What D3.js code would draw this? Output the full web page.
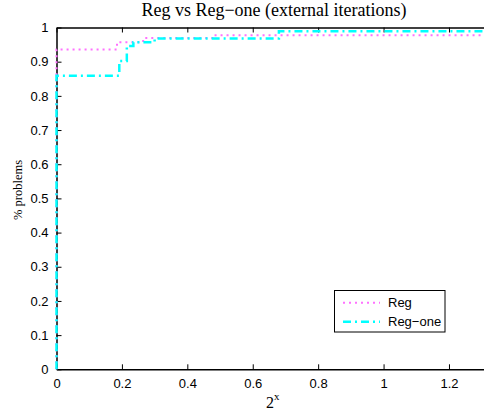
<!DOCTYPE html>
<html lang="en">
<head>
<meta charset="UTF-8">
<title>Reg vs Reg-one</title>
<script src="https://d3js.org/d3.v7.min.js"></script>
<style>
  body { margin: 0; background: #fff; }
  svg { display: block; }
  .tick text { font-family: "Liberation Sans", Arial, sans-serif; font-size: 13px; fill: #000; }
  .serif { font-family: "Liberation Serif", "Times New Roman", serif; fill: #000; }
</style>
</head>
<body>
<div id="chart"></div>
<script>
// step curves: x where each level starts, and the level (fraction of problems)
const regX      = [0, 0,     0.185, 0.265, 0.48,  1.33];
const regY      = [0, 0.936, 0.957, 0.969, 0.977, 0.977];
const regOneX   = [0, 0,     0.192, 0.215, 0.235, 0.30,  0.68,  1.33];
const regOneY   = [0, 0.859, 0.902, 0.946, 0.957, 0.968, 0.989, 0.989];

const xTicks = [0, 0.2, 0.4, 0.6, 0.8, 1, 1.2];
const yTicks = [0, 0.1, 0.2, 0.3, 0.4, 0.5, 0.6, 0.7, 0.8, 0.9, 1];
const seriesNames = ["Reg", "Reg\u2212one"];

const width = 484, height = 410;
const plotLeft = 56.5, plotRight = 491.5, plotTop = 27.5, plotBottom = 369.3;

const x = d3.scaleLinear().domain([0, 1.33]).range([plotLeft, plotRight]);
const y = d3.scaleLinear().domain([0, 1]).range([plotBottom, plotTop]);

const svg = d3.select("#chart").append("svg")
    .attr("width", width)
    .attr("height", height);

// axes, ticks pointing inward like matlab
const xAxis = d3.axisBottom(x).tickValues(xTicks).tickSizeInner(-5).tickSizeOuter(0).tickPadding(9)
    .tickFormat(d3.format("~g"));
const gx = svg.append("g").attr("transform", `translate(0,${plotBottom})`).call(xAxis);

const xTop = d3.axisTop(x).tickValues(xTicks).tickSizeInner(-5).tickSizeOuter(0).tickFormat("");
const gxt = svg.append("g").attr("transform", `translate(0,${plotTop})`).call(xTop);

const yAxis = d3.axisLeft(y).tickValues(yTicks).tickSizeInner(-5).tickSizeOuter(0).tickPadding(9)
    .tickFormat(d3.format("~g"));
const gy = svg.append("g").attr("transform", `translate(${plotLeft},0)`).call(yAxis);

[gx, gxt, gy].forEach(g => {
    g.select(".domain").attr("stroke", "#000").attr("stroke-width", 1.5);
    g.selectAll(".tick line").attr("stroke", "#000").attr("stroke-width", 1);
});
gx.selectAll(".tick text").attr("dy", "0.71em");
gy.selectAll(".tick text").attr("dx", "1px");

// data lines (drawn over the axes)
const line = d3.line()
    .x(d => x(d[0]))
    .y(d => y(d[1]))
    .curve(d3.curveStepAfter);

const series = [
    { name: seriesNames[0], pts: d3.zip(regX, regY), color: "#ff70ff", dash: "2,4", w: 2 },
    { name: seriesNames[1], pts: d3.zip(regOneX, regOneY), color: "#00ffff", dash: "8,4,2,4", w: 2.5 }
];

series.forEach(s => {
    svg.append("path")
        .attr("d", line(s.pts))
        .attr("fill", "none")
        .attr("stroke", s.color)
        .attr("stroke-width", s.w)
        .attr("stroke-dasharray", s.dash);
});

// title and labels
svg.append("text").attr("class", "serif")
    .attr("x", 274).attr("y", 16)
    .attr("text-anchor", "middle")
    .attr("font-size", 18)
    .text("Reg vs Reg\u2212one (external iterations)");

svg.append("text").attr("class", "serif")
    .attr("transform", "translate(22,190) rotate(-90)")
    .attr("text-anchor", "middle")
    .attr("font-size", 12.5)
    .text("% problems");

const xl = svg.append("text").attr("class", "serif")
    .attr("x", 266).attr("y", 408)
    .attr("font-size", 16);
xl.append("tspan").text("2");
xl.append("tspan").attr("font-size", 11).attr("dy", -8).text("x");

// legend
const lg = svg.append("g");
lg.append("rect")
    .attr("x", 334.5).attr("y", 290.5)
    .attr("width", 110.5).attr("height", 41.5)
    .attr("fill", "#fff").attr("stroke", "#000").attr("stroke-width", 1);
series.forEach((s, i) => {
    const ly = 302.7 + i * 19;
    lg.append("line")
        .attr("x1", 343).attr("x2", 380)
        .attr("y1", ly).attr("y2", ly)
        .attr("stroke", s.color)
        .attr("stroke-width", s.w)
        .attr("stroke-dasharray", s.dash);
    lg.append("text")
        .attr("x", 388).attr("y", ly + 4.5)
        .attr("font-family", "'Liberation Sans', Arial, sans-serif")
        .attr("font-size", 13)
        .text(s.name);
});
</script>
</body>
</html>
